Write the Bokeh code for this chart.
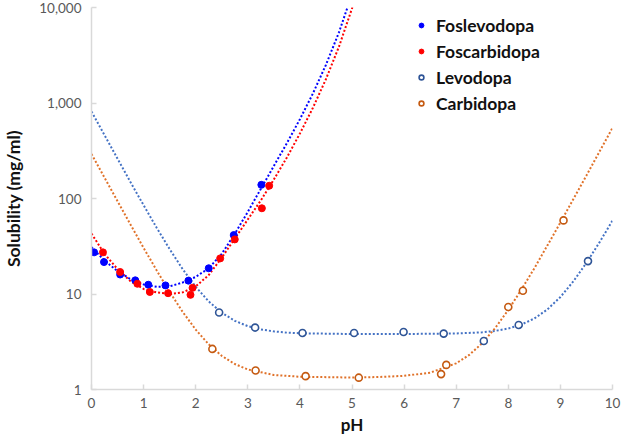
from bokeh.plotting import figure
from bokeh.models import Range1d, FixedTicker, NumeralTickFormatter, Legend, LegendItem
from bokeh.embed import file_html
from bokeh.resources import INLINE

# ---- measured points ----
fosl_ph = [0.05, 0.24, 0.55, 0.84, 1.09, 1.42, 1.86, 2.25, 2.73, 3.26]
fosl_sol = [27.3, 21.6, 16.0, 13.9, 12.5, 12.3, 13.8, 18.6, 41.4, 139]

fosc_ph = [0.22, 0.55, 0.88, 1.12, 1.47, 1.90, 1.94, 2.47, 2.75, 3.27, 3.41]
fosc_sol = [27.3, 17.0, 12.8, 10.5, 10.2, 9.8, 11.6, 23.6, 37.3, 79, 136]

levo_ph = [2.45, 3.14, 4.05, 5.04, 5.99, 6.76, 7.53, 8.20, 9.53]
levo_sol = [6.4, 4.45, 3.91, 3.91, 4.0, 3.85, 3.22, 4.74, 22.1]

carb_ph = [2.32, 3.15, 4.11, 5.13, 6.71, 6.81, 8.00, 8.28, 9.06]
carb_sol = [2.66, 1.58, 1.38, 1.33, 1.45, 1.81, 7.3, 10.8, 59]

# ---- fitted curves ----
fosl_fit_ph = [0, 0.25, 0.5, 0.75, 1.0, 1.25, 1.5, 1.75, 2.0, 2.25, 2.5, 2.75,
               3.0, 3.25, 3.5, 3.75, 4.0, 4.25, 4.5, 4.75, 5.0]
fosl_fit = [30.9, 22.4, 17.4, 14.3, 12.6, 11.9, 12.0, 13.2, 15.1, 18.6, 26.3, 42.7,
            72.4, 126, 219, 380, 676, 1259, 2512, 5495, 13800]

fosc_fit_ph = [0, 0.25, 0.5, 0.75, 1.0, 1.25, 1.5, 1.75, 2.0, 2.25, 2.5, 2.75,
               3.0, 3.25, 3.5, 3.75, 4.0, 4.25, 4.5, 4.75, 5.0, 5.25]
fosc_fit = [42.9, 26.3, 18.2, 13.6, 11.3, 10.4, 10.0, 10.4, 12.0, 15.8, 24.0, 38.0,
            60.3, 95.5, 158, 269, 479, 891, 1778, 3890, 9770, 25000]

levo_fit_ph = [0, 0.25, 0.5, 0.75, 1.0, 1.25, 1.5, 1.75, 2.0, 2.25, 2.5, 2.75,
               3.0, 3.25, 3.5, 3.75, 4.0, 5.0, 6.0, 7.0, 7.5, 7.75, 8.0, 8.25,
               8.5, 8.75, 9.0, 9.25, 9.5, 9.75, 10.0]
levo_fit = [816, 461, 261, 148, 85, 49.5, 29.5, 18.2, 11.9, 8.36, 6.37, 5.24,
            4.61, 4.26, 4.06, 3.94, 3.88, 3.81, 3.81, 3.86, 3.97, 4.11, 4.35, 4.78,
            5.54, 6.89, 9.29, 13.6, 21.2, 34.7, 58.7]

carb_fit_ph = [0, 0.25, 0.5, 0.75, 1.0, 1.25, 1.5, 1.75, 2.0, 2.25, 2.5, 2.75,
               3.0, 3.5, 4.0, 5.0, 5.5, 6.0, 6.5, 7.0, 7.25, 7.5, 7.75, 8.0,
               8.25, 8.5, 8.75, 9.0, 9.25, 9.5, 9.75, 10.0]
carb_fit = [292, 165, 93.4, 53.1, 30.4, 17.7, 10.5, 6.5, 4.24, 2.97, 2.25, 1.85,
            1.62, 1.42, 1.36, 1.334, 1.35, 1.39, 1.50, 1.88, 2.30, 3.06, 4.41, 6.81,
            11.1, 18.6, 32.2, 56.1, 98.8, 174, 310, 550]

x_ticks = [0, 1, 2, 3, 4, 5, 6, 7, 8, 9, 10]
y_ticks = [1, 10, 100, 1000, 10000]

FONT = "Lato"

p = figure(width=622, height=440, y_axis_type="log",
           x_range=Range1d(0, 10), y_range=Range1d(1, 10000),
           output_backend="svg", toolbar_location=None,
           min_border_left=90, min_border_right=10, min_border_top=7,
           min_border_bottom=51)
p.outline_line_color = None
p.xgrid.visible = False
p.ygrid.visible = False

dash = "2 2"
p.line(levo_fit_ph, levo_fit, line_color="#4472C4", line_width=2, line_dash=dash)
p.line(carb_fit_ph, carb_fit, line_color="#E0722A", line_width=2, line_dash=dash)
p.line(fosc_fit_ph, fosc_fit, line_color="#FF0000", line_width=2, line_dash=dash)
p.line(fosl_fit_ph, fosl_fit, line_color="#0000FF", line_width=2, line_dash=dash)

r_fosl = p.scatter(fosl_ph, fosl_sol, size=7, fill_color="#0000FF", line_color="#0000FF")
r_fosc = p.scatter(fosc_ph, fosc_sol, size=7, fill_color="#FF0000", line_color="#FF0000")
r_levo = p.scatter(levo_ph, levo_sol, size=7, fill_color="white", line_color="#2F5597", line_width=1.6)
r_carb = p.scatter(carb_ph, carb_sol, size=7, fill_color="white", line_color="#C55A11", line_width=1.6)

legend = Legend(items=[
    LegendItem(label="Foslevodopa", renderers=[r_fosl]),
    LegendItem(label="Foscarbidopa", renderers=[r_fosc]),
    LegendItem(label="Levodopa", renderers=[r_levo]),
    LegendItem(label="Carbidopa", renderers=[r_carb]),
], location=(324, 275))
legend.background_fill_alpha = 0
legend.border_line_color = None
legend.padding = 3
legend.spacing = 4
legend.glyph_width = 12
legend.glyph_height = 22
legend.label_height = 22
legend.label_standoff = 9
legend.label_text_font = FONT
legend.label_text_font_style = "bold"
legend.label_text_font_size = "17.5px"
legend.label_text_color = "#111111"
p.add_layout(legend, "center")

for ax in (p.xaxis[0], p.yaxis[0]):
    ax.axis_line_color = "#D9D9D9"
    ax.axis_line_width = 1.5
    ax.major_tick_line_color = "#D9D9D9"
    ax.major_tick_line_width = 1.5
    ax.major_tick_in = 5
    ax.major_tick_out = 0
    ax.minor_tick_line_color = None
    ax.major_label_text_font = FONT
    ax.major_label_text_font_size = "13.5px"
    ax.major_label_text_color = "#595959"
    ax.axis_label_text_font = FONT
    ax.axis_label_text_font_style = "bold"
    ax.axis_label_text_color = "#111111"

p.xaxis[0].major_label_standoff = 8
p.yaxis[0].major_label_standoff = 10
p.xaxis[0].ticker = FixedTicker(ticks=x_ticks)
p.yaxis[0].ticker = FixedTicker(ticks=y_ticks, minor_ticks=[])
p.yaxis[0].formatter = NumeralTickFormatter(format="0,0")
p.xaxis[0].axis_label = "pH"
p.xaxis[0].axis_label_text_font_size = "17px"
p.xaxis[0].axis_label_standoff = 3
p.yaxis[0].axis_label = "Solubility (mg/ml)"
p.yaxis[0].axis_label_text_font_size = "17.5px"
p.yaxis[0].axis_label_standoff = 12

open("out.html", "w").write(file_html(p, INLINE))
